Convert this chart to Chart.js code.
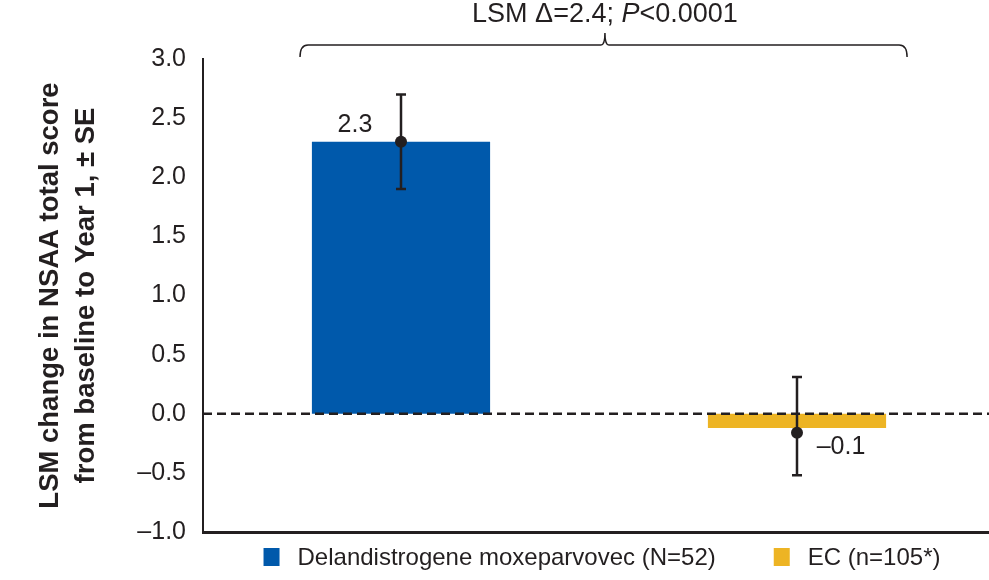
<!DOCTYPE html>
<html>
<head>
<meta charset="utf-8">
<script src="https://cdn.jsdelivr.net/npm/chart.js@4.4.1/dist/chart.umd.min.js"></script>
<style>
  html, body { margin: 0; padding: 0; background: #fff; overflow: hidden; }
  #wrap { width: 995px; height: 580px; }
</style>
</head>
<body>
<div id="wrap"><canvas id="lsmChart" width="995" height="580"></canvas></div>
<script>
// values
const groups = ['Delandistrogene moxeparvovec (N=52)', 'EC (n=105*)'];
const barValues = [2.3, -0.12];
const pointValues = [2.3, -0.16];
const errLow = [1.9, -0.52];
const errHigh = [2.7, 0.31];
const valueLabels = ['2.3', '–0.1'];
const yTicks = [-1.0, -0.5, 0.0, 0.5, 1.0, 1.5, 2.0, 2.5, 3.0];
const comparisonText = ['LSM Δ=2.4; ', 'P', '<0.0001'];

const barColors = ['#0059ab', '#edb424'];
const ink = '#231f20';
const fontFamily = '"Liberation Sans", Arial, Helvetica, sans-serif';

Chart.defaults.font.family = fontFamily;
Chart.defaults.color = ink;

const extras = {
    id: 'extras',
    afterDatasetsDraw(chart) {
        const ctx = chart.ctx;
        const xs = chart.scales.x;
        const ys = chart.scales.y;
        const area = chart.chartArea;

        // dashed zero line
        const y0 = ys.getPixelForValue(0);
        ctx.save();
        ctx.strokeStyle = ink;
        ctx.lineWidth = 2.5;
        ctx.setLineDash([9, 5]);
        ctx.beginPath();
        ctx.moveTo(area.left, y0);
        ctx.lineTo(area.right, y0);
        ctx.stroke();
        ctx.setLineDash([]);

        // error bars + means
        const labelOffsets = [[-46, -17], [44, 14]];
        pointValues.forEach((v, i) => {
            const x = xs.getPixelForValue(i);
            const yLo = ys.getPixelForValue(errLow[i]);
            const yHi = ys.getPixelForValue(errHigh[i]);
            const y = ys.getPixelForValue(v);
            ctx.lineWidth = 2.5;
            ctx.strokeStyle = ink;
            ctx.beginPath();
            ctx.moveTo(x, yLo); ctx.lineTo(x, yHi);
            ctx.moveTo(x - 5, yLo); ctx.lineTo(x + 5, yLo);
            ctx.moveTo(x - 5, yHi); ctx.lineTo(x + 5, yHi);
            ctx.stroke();
            ctx.fillStyle = ink;
            ctx.beginPath();
            ctx.arc(x, y, 6, 0, Math.PI * 2);
            ctx.fill();

            ctx.font = '25px ' + fontFamily;
            ctx.textAlign = 'center';
            ctx.textBaseline = 'middle';
            ctx.fillText(valueLabels[i], x + labelOffsets[i][0], y + labelOffsets[i][1]);
        });
        ctx.restore();
    },
    afterDraw(chart) {
        const ctx = chart.ctx;
        const xs = chart.scales.x;
        const area = chart.chartArea;

        // bracket over both groups
        const x1 = xs.getPixelForValue(-0.255);
        const x2 = xs.getPixelForValue(1.278);
        const cx = xs.getPixelForValue(0.515);
        const yb = area.top - 14;
        ctx.save();
        ctx.strokeStyle = ink;
        ctx.lineWidth = 1.5;
        ctx.beginPath();
        ctx.moveTo(x1, yb + 12);
        ctx.quadraticCurveTo(x1, yb, x1 + 8, yb);
        ctx.lineTo(cx - 4, yb);
        ctx.quadraticCurveTo(cx, yb, cx, yb - 12);
        ctx.quadraticCurveTo(cx, yb, cx + 4, yb);
        ctx.lineTo(x2 - 8, yb);
        ctx.quadraticCurveTo(x2, yb, x2, yb + 12);
        ctx.stroke();

        // comparison text, P in italics
        const fonts = ['27px ' + fontFamily, 'italic 27px ' + fontFamily, '27px ' + fontFamily];
        let total = 0;
        const widths = comparisonText.map((t, i) => {
            ctx.font = fonts[i];
            const w = ctx.measureText(t).width;
            total += w;
            return w;
        });
        let tx = cx - total / 2;
        ctx.fillStyle = ink;
        ctx.textAlign = 'left';
        ctx.textBaseline = 'alphabetic';
        comparisonText.forEach((t, i) => {
            ctx.font = fonts[i];
            ctx.fillText(t, tx, area.top - 37);
            tx += widths[i];
        });

        // legend
        ctx.font = '24px ' + fontFamily;
        const boxW = 16, boxH = 18, gapText = 18, gapItem = 58;
        const items = chart.data.datasets.map(d => ({
            label: d.label, color: d.backgroundColor, w: ctx.measureText(d.label).width
        }));
        const legendW = items.reduce((s, it) => s + boxW + gapText + it.w, 0) + gapItem * (items.length - 1);
        let lx = (area.left + area.right) / 2 - legendW / 2 + 3;
        const ly = area.bottom + 25;
        ctx.textBaseline = 'middle';
        items.forEach(it => {
            ctx.fillStyle = it.color;
            ctx.fillRect(lx, ly - boxH / 2, boxW, boxH);
            ctx.fillStyle = ink;
            ctx.fillText(it.label, lx + boxW + gapText, ly + 1);
            lx += boxW + gapText + it.w + gapItem;
        });
        ctx.restore();
    }
};

new Chart(document.getElementById('lsmChart'), {
    type: 'bar',
    data: {
        labels: groups,
        datasets: groups.map((g, i) => ({
            label: g,
            data: barValues.map((v, j) => (j === i ? v : null)),
            backgroundColor: barColors[i],
            barPercentage: 0.45,
            categoryPercentage: 1,
            grouped: false
        }))
    },
    options: {
        responsive: false,
        animation: false,
        devicePixelRatio: 1,
        layout: {
            padding: { top: 59, bottom: 48, left: 0, right: 0 }
        },
        plugins: {
            legend: { display: false },
            tooltip: { enabled: false }
        },
        scales: {
            x: {
                ticks: { display: false },
                grid: { display: false, drawTicks: false },
                border: { color: ink, width: 3 }
            },
            y: {
                min: -1,
                max: 3,
                afterBuildTicks: s => { s.ticks = yTicks.map(v => ({ value: v })); },
                afterFit: s => { s.width = 203; },
                ticks: {
                    padding: 17,
                    font: { size: 25 },
                    color: ink,
                    callback: v => v.toFixed(1).replace('-', '–')
                },
                grid: { display: false, drawTicks: false },
                border: { color: ink, width: 2 },
                title: {
                    display: true,
                    text: ['LSM change in NSAA total score', 'from baseline to Year 1, ± SE'],
                    font: { size: 27.5, weight: 'bold', lineHeight: 1.31 },
                    color: ink,
                    padding: { top: 32, bottom: 0 }
                }
            }
        }
    },
    plugins: [extras]
});
</script>
</body>
</html>
